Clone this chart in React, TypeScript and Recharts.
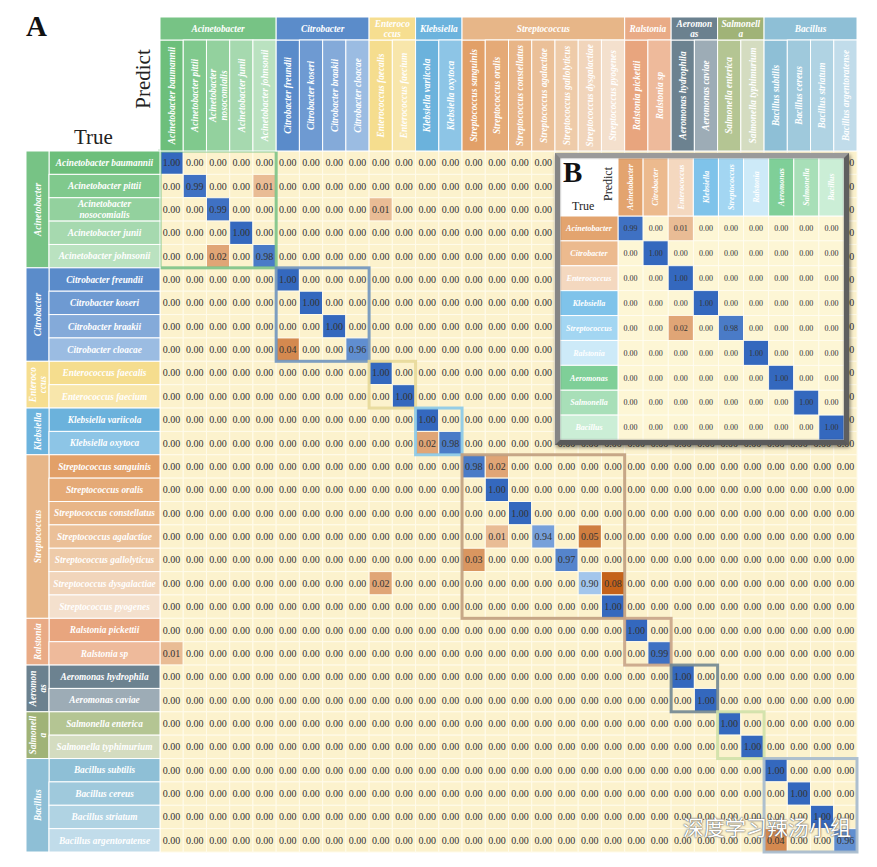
import React from 'react';
import { ScatterChart, Scatter, XAxis, YAxis } from 'recharts';

// ================= DATA =================
const groupNames = ['Acinetobacter', 'Citrobacter', 'Enterococcus', 'Klebsiella', 'Streptococcus', 'Ralstonia', 'Aeromonas', 'Salmonella', 'Bacillus'];
const groupSizes = [5, 4, 2, 2, 7, 2, 2, 2, 4];
const groupHeaderLines = [['Acinetobacter'], ['Citrobacter'], ['Enteroco', 'ccus'], ['Klebsiella'], ['Streptococcus'], ['Ralstonia'], ['Aeromon', 'as'], ['Salmonell', 'a'], ['Bacillus']];

const speciesLabelLines = [
  ['Acinetobacter baumannii'], ['Acinetobacter pittii'], ['Acinetobacter', 'nosocomialis'], ['Acinetobacter junii'], ['Acinetobacter johnsonii'],
  ['Citrobacter freundii'], ['Citrobacter koseri'], ['Citrobacter braakii'], ['Citrobacter cloacae'],
  ['Enterococcus faecalis'], ['Enterococcus faecium'],
  ['Klebsiella variicola'], ['Klebsiella oxytoca'],
  ['Streptococcus sanguinis'], ['Streptococcus oralis'], ['Streptococcus constellatus'], ['Streptococcus agalactiae'], ['Streptococcus gallolyticus'], ['Streptococcus dysgalactiae'], ['Streptococcus pyogenes'],
  ['Ralstonia pickettii'], ['Ralstonia sp'],
  ['Aeromonas hydrophila'], ['Aeromonas caviae'],
  ['Salmonella enterica'], ['Salmonella typhimurium'],
  ['Bacillus subtilis'], ['Bacillus cereus'], ['Bacillus striatum'], ['Bacillus argentoratense'],
];

// [trueRow, predictedCol, value] – all other cells are 0.00
const mainNonZero: [number, number, number][] = [
  [0, 0, 1.00], [1, 1, 0.99], [1, 4, 0.01], [2, 2, 0.99], [2, 9, 0.01], [3, 3, 1.00], [4, 2, 0.02], [4, 4, 0.98],
  [5, 5, 1.00], [6, 6, 1.00], [7, 7, 1.00], [8, 5, 0.04], [8, 8, 0.96],
  [9, 9, 1.00], [10, 10, 1.00],
  [11, 11, 1.00], [12, 11, 0.02], [12, 12, 0.98],
  [13, 13, 0.98], [13, 14, 0.02], [14, 14, 1.00], [15, 15, 1.00], [16, 14, 0.01], [16, 16, 0.94], [16, 18, 0.05],
  [17, 13, 0.03], [17, 17, 0.97], [18, 9, 0.02], [18, 18, 0.90], [18, 19, 0.08], [19, 19, 1.00],
  [20, 20, 1.00], [21, 0, 0.01], [21, 21, 0.99],
  [22, 22, 1.00], [23, 23, 1.00],
  [24, 24, 1.00], [25, 25, 1.00],
  [26, 26, 1.00], [27, 27, 1.00], [28, 28, 1.00], [29, 26, 0.04], [29, 29, 0.96],
];

const insetNames = ['Acinetobacter', 'Citrobacter', 'Enterococcus', 'Klebsiella', 'Streptococcus', 'Ralstonia', 'Aeromonas', 'Salmonella', 'Bacillus'];
const insetNonZero: [number, number, number][] = [
  [0, 0, 0.99], [0, 2, 0.01], [1, 1, 1.00], [2, 2, 1.00], [3, 3, 1.00], [4, 2, 0.02], [4, 4, 0.98],
  [5, 5, 1.00], [6, 6, 1.00], [7, 7, 1.00], [8, 8, 1.00],
];

// ================= STYLE =================
const SERIF = "'Liberation Serif', 'Times New Roman', Times, serif";
const W = 877, H = 867;
const PL = 160, PT = 151, PR = 857, PB = 852;
const N = 30;
const CW = (PR - PL) / N, CH = (PB - PT) / N;
const GROUP_TOP = 17, SPEC_TOP = 40, GROUP_LEFT = 26, SPEC_LEFT = 49;

const groupColors = ['#77c385', '#5b8cca', '#f6de90', '#6cb3dd', '#e7b688', '#e9ab86', '#6b818f', '#a0b377', '#8ebfd6'];
const speciesColors = [
  '#6dbf7b', '#80c98d', '#93d19e', '#a6d9af', '#bae2c0',
  '#5a8bca', '#6e9ad2', '#84aad9', '#9bbce2',
  '#f5dd8e', '#f8e6ab',
  '#6bb2dc', '#8dc5e6',
  '#e2a068', '#e5aa77', '#e8b587', '#ebc098', '#eecba9', '#f1d5bb', '#f4e0cd',
  '#e8a57e', '#eeba9b',
  '#6c8290', '#9dacb6',
  '#b4c593', '#d4dcc0',
  '#8ebfd6', '#9fc9dc', '#b0d3e3', '#c1dcea',
];
const boxColors = ['#7cc286', '#6f93bc', '#e7d898', '#88c8e7', '#c09d7d', '#c8a386', '#718690', '#cfe0a7', '#a5b9cc'];
const insetColors = ['#e3a46f', '#ecba8e', '#f4d8bf', '#7fc3ea', '#a3d6f2', '#cdeaf8', '#7fcf98', '#a8dfb8', '#cbeed6'];

function hexToRgb(h: string) {
  const n = parseInt(h.slice(1), 16);
  return [(n >> 16) & 255, (n >> 8) & 255, n & 255];
}
function mix(a: string, b: string, t: number) {
  const A = hexToRgb(a), B = hexToRgb(b);
  const c = A.map((v, i) => Math.round(v + (B[i] - v) * t));
  return `rgb(${c[0]},${c[1]},${c[2]})`;
}
const clamp = (v: number, a: number, b: number) => Math.max(a, Math.min(b, v));
function cellFill(v: number, bg: string) {
  if (v < 0.005) return bg;
  if (v >= 0.5) return mix('#3468be', '#a3c6ec', clamp((1 - v) / 0.1, 0, 1));
  return mix('#f6dcc0', '#c4621a', Math.sqrt(clamp((v - 0.005) / 0.075, 0, 1)));
}

// derived structure
const groupStarts: number[] = [];
groupSizes.reduce((acc, s) => { groupStarts.push(acc); return acc + s; }, 0);
const speciesGroup: number[] = [];
groupSizes.forEach((s, g) => { for (let k = 0; k < s; k++) speciesGroup.push(g); });

function buildMatrix(n: number, nz: [number, number, number][]) {
  const m: number[][] = Array.from({ length: n }, () => Array(n).fill(0));
  nz.forEach(([r, c, v]) => { m[r][c] = v; });
  const pts: { x: number; y: number; v: number }[] = [];
  m.forEach((row, r) => row.forEach((v, c) => pts.push({ x: c + 0.5, y: r + 0.5, v })));
  return pts;
}
const mainCells = buildMatrix(N, mainNonZero);
const insetCells = buildMatrix(insetNames.length, insetNonZero);
const groupBoxes = groupSizes.map((s, g) => ({ x: groupStarts[g] + s / 2, y: groupStarts[g] + s / 2, size: s, color: boxColors[g] }));
const mainTicks = Array.from({ length: N }, (_, i) => i + 0.5);
const insetTicks = insetNames.map((_, i) => i + 0.5);

const labelText = { fill: '#ffffff', fontFamily: SERIF, fontStyle: 'italic', fontWeight: 'bold' } as const;

// ================= MAIN TICKS =================
const ColTick = (props: any) => {
  const { x, payload } = props;
  if (!payload) return null;
  const i = Math.round(payload.value - 0.5);
  const left = x - CW / 2;
  const lines = speciesLabelLines[i];
  const g = speciesGroup[i];
  const isStart = groupStarts[g] === i;
  const gw = groupSizes[g] * CW;
  const gl = groupHeaderLines[g];
  return (
    <g>
      <rect x={left} y={SPEC_TOP} width={CW} height={PT - SPEC_TOP} fill={speciesColors[i]} stroke="#ffffff" strokeWidth={1} />
      {lines.map((ln, k) => (
        <text key={k} transform={`translate(${x + (k - (lines.length - 1) / 2) * 10.5},${(SPEC_TOP + PT) / 2}) rotate(-90)`}
          textAnchor="middle" dy="0.35em" fontSize={9.3} {...labelText}>{ln}</text>
      ))}
      {isStart && (
        <g>
          <rect x={left} y={GROUP_TOP} width={gw} height={SPEC_TOP - GROUP_TOP} fill={groupColors[g]} stroke="#ffffff" strokeWidth={1} />
          {gl.map((ln, k) => (
            <text key={k} x={left + gw / 2} y={(GROUP_TOP + SPEC_TOP) / 2 + (k - (gl.length - 1) / 2) * 10.5}
              textAnchor="middle" dy="0.35em" fontSize={9.3} {...labelText}>{ln}</text>
          ))}
        </g>
      )}
    </g>
  );
};

const RowTick = (props: any) => {
  const { y, payload } = props;
  if (!payload) return null;
  const i = Math.round(payload.value - 0.5);
  const top = y - CH / 2;
  const lines = speciesLabelLines[i];
  const g = speciesGroup[i];
  const isStart = groupStarts[g] === i;
  const gh = groupSizes[g] * CH;
  const gl = groupHeaderLines[g];
  return (
    <g>
      <rect x={SPEC_LEFT} y={top} width={PL - SPEC_LEFT} height={CH} fill={speciesColors[i]} stroke="#ffffff" strokeWidth={1} />
      {lines.map((ln, k) => (
        <text key={k} x={(SPEC_LEFT + PL) / 2} y={y + (k - (lines.length - 1) / 2) * 11}
          textAnchor="middle" dy="0.35em" fontSize={9.3} {...labelText}>{ln}</text>
      ))}
      {isStart && (
        <g>
          <rect x={GROUP_LEFT} y={top} width={SPEC_LEFT - GROUP_LEFT} height={gh} fill={groupColors[g]} stroke="#ffffff" strokeWidth={1} />
          {gl.map((ln, k) => (
            <text key={k} transform={`translate(${(GROUP_LEFT + SPEC_LEFT) / 2 + (k - (gl.length - 1) / 2) * 10},${top + gh / 2}) rotate(-90)`}
              textAnchor="middle" dy="0.35em" fontSize={9.3} {...labelText}>{ln}</text>
          ))}
        </g>
      )}
    </g>
  );
};

const MainCell = (props: any) => {
  const { cx, cy, payload } = props;
  const v = payload.v;
  return (
    <g>
      <rect x={cx - CW / 2} y={cy - CH / 2} width={CW} height={CH} fill={cellFill(v, '#fcf2cd')} stroke="#fffbea" strokeWidth={1} />
      <text x={cx} y={cy} dy="0.35em" textAnchor="middle" fontSize={10} fontFamily={SERIF} fill="#333333">{v.toFixed(2)}</text>
    </g>
  );
};

const GroupBox = (props: any) => {
  const { cx, cy, payload } = props;
  const w = payload.size * CW, h = payload.size * CH;
  return <rect x={cx - w / 2} y={cy - h / 2} width={w} height={h} fill="none" stroke={payload.color} strokeWidth={3} strokeOpacity={0.9} />;
};

// ================= INSET =================
const IW = 294, IH = 292;
const IM = 5, IHEAD = 58;
const IPL = IM + IHEAD, IPT = IM + IHEAD;
const ICW = (IW - IM - IPL) / insetNames.length;
const ICH = (IH - IM - IPT) / insetNames.length;

const InsetColTick = (props: any) => {
  const { x, payload } = props;
  if (!payload) return null;
  const i = Math.round(payload.value - 0.5);
  return (
    <g>
      <rect x={x - ICW / 2} y={IM} width={ICW} height={IHEAD} fill={insetColors[i]} stroke="#ffffff" strokeWidth={1} />
      <text transform={`translate(${x},${IM + IHEAD / 2}) rotate(-90)`} textAnchor="middle" dy="0.35em" fontSize={8} {...labelText}>{insetNames[i]}</text>
    </g>
  );
};
const InsetRowTick = (props: any) => {
  const { y, payload } = props;
  if (!payload) return null;
  const i = Math.round(payload.value - 0.5);
  return (
    <g>
      <rect x={IM} y={y - ICH / 2} width={IHEAD} height={ICH} fill={insetColors[i]} stroke="#ffffff" strokeWidth={1} />
      <text x={IM + IHEAD / 2} y={y} textAnchor="middle" dy="0.35em" fontSize={8} {...labelText}>{insetNames[i]}</text>
    </g>
  );
};
const InsetCell = (props: any) => {
  const { cx, cy, payload } = props;
  const v = payload.v;
  return (
    <g>
      <rect x={cx - ICW / 2} y={cy - ICH / 2} width={ICW} height={ICH} fill={cellFill(v, '#fdf6d5')} stroke="#fffdf2" strokeWidth={0.8} />
      <text x={cx} y={cy} dy="0.35em" textAnchor="middle" fontSize={8} fontFamily={SERIF} fill="#333333">{v.toFixed(2)}</text>
    </g>
  );
};

const INSET_LEFT = 555, INSET_TOP = 153;

export default function App() {
  return (
    <div style={{ position: 'absolute', left: 0, top: 0, width: W, height: H, background: '#ffffff', overflow: 'hidden' }}>
      <ScatterChart width={W} height={H} margin={{ top: GROUP_TOP, left: GROUP_LEFT, right: W - PR, bottom: H - PB }}>
        <XAxis xAxisId="m" type="number" dataKey="x" orientation="top" domain={[0, N]} ticks={mainTicks} interval={0}
          height={PT - GROUP_TOP} tickLine={false} axisLine={false} tick={(p: any) => <ColTick {...p} />} />
        <YAxis yAxisId="m" type="number" dataKey="y" reversed domain={[0, N]} ticks={mainTicks} interval={0}
          width={PL - GROUP_LEFT} tickLine={false} axisLine={false} tick={(p: any) => <RowTick {...p} />} />
        <Scatter xAxisId="m" yAxisId="m" data={mainCells} isAnimationActive={false} shape={(p: any) => <MainCell {...p} />} />
        <Scatter xAxisId="m" yAxisId="m" data={groupBoxes} isAnimationActive={false} shape={(p: any) => <GroupBox {...p} />} />
      </ScatterChart>

      <svg width={W} height={H} style={{ position: 'absolute', left: 0, top: 0, pointerEvents: 'none' }}>
        <text x={26} y={36} fontSize={29} fontWeight="bold" fontFamily={SERIF} fill="#111">A</text>
        <text transform="translate(150,79) rotate(-90)" textAnchor="middle" fontSize={21} fontFamily={SERIF} fill="#222">Predict</text>
        <text x={74} y={144} fontSize={21} fontFamily={SERIF} fill="#222">True</text>
      </svg>

      <div style={{ position: 'absolute', left: INSET_LEFT, top: INSET_TOP, width: IW, height: IH, background: '#ffffff' }}>
        <ScatterChart width={IW} height={IH} margin={{ top: IM, left: IM, right: IM, bottom: IM }}>
          <XAxis xAxisId="i" type="number" dataKey="x" orientation="top" domain={[0, insetNames.length]} ticks={insetTicks} interval={0}
            height={IHEAD} tickLine={false} axisLine={false} tick={(p: any) => <InsetColTick {...p} />} />
          <YAxis yAxisId="i" type="number" dataKey="y" reversed domain={[0, insetNames.length]} ticks={insetTicks} interval={0}
            width={IHEAD} tickLine={false} axisLine={false} tick={(p: any) => <InsetRowTick {...p} />} />
          <Scatter xAxisId="i" yAxisId="i" data={insetCells} isAnimationActive={false} shape={(p: any) => <InsetCell {...p} />} />
        </ScatterChart>
        <svg width={IW} height={IH} style={{ position: 'absolute', left: 0, top: 0, pointerEvents: 'none' }}>
          <text x={8} y={29} fontSize={29} fontWeight="bold" fontFamily={SERIF} fill="#111">B</text>
          <text transform="translate(57,31) rotate(-90)" textAnchor="middle" fontSize={12} fontFamily={SERIF} fill="#222">Predict</text>
          <text x={17} y={57} fontSize={12} fontFamily={SERIF} fill="#222">True</text>
        </svg>
        <div style={{
          position: 'absolute', left: 0, top: 0, width: IW, height: IH, boxSizing: 'border-box', pointerEvents: 'none',
          border: '5px solid #737373', borderTopColor: '#9a9a9a', borderLeftColor: '#858585', borderRightColor: '#5f5f5f', borderBottomColor: '#5a5a5a',
          boxShadow: '1px 2px 4px rgba(0,0,0,0.55), inset 0 0 2px rgba(0,0,0,0.6)',
        }} />
      </div>

      <div style={{
        position: 'absolute', left: 683, top: 814, fontSize: 21, lineHeight: '24px', color: '#ffffff',
        fontFamily: "'Noto Sans CJK SC', sans-serif", textShadow: '0 0 2px #555, 0 0 1px #555', whiteSpace: 'nowrap',
      }}>深度学习辣汤小组</div>
    </div>
  );
}
